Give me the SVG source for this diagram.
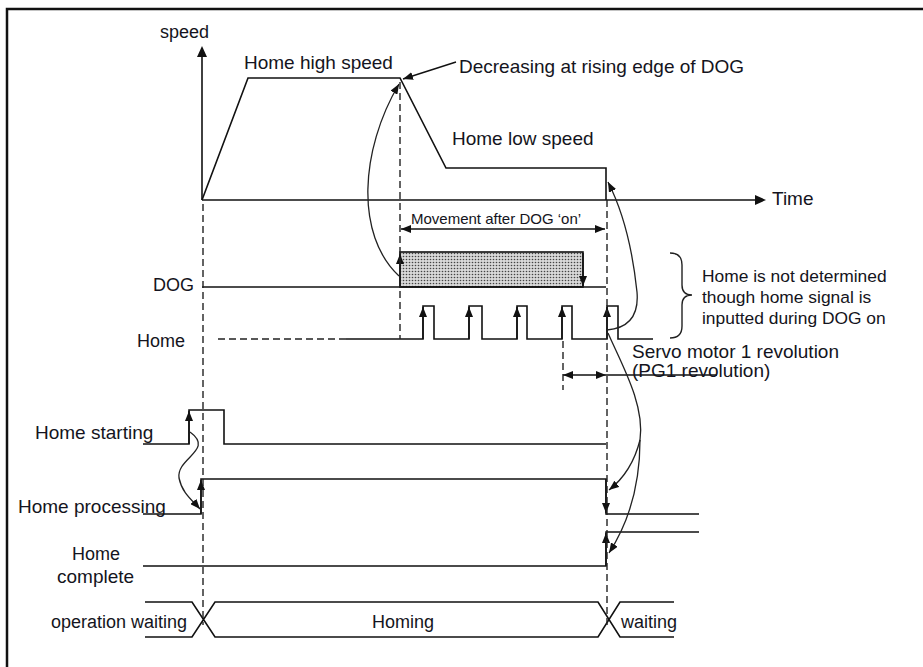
<svg xmlns="http://www.w3.org/2000/svg" width="923" height="667" viewBox="0 0 923 667">
<style>
text{font-family:"Liberation Sans",Arial,sans-serif;fill:#141420}
.t19{font-size:19px}
.t18{font-size:18px}
.t17{font-size:17.4px}
.t15{font-size:15px}
.ln{fill:none;stroke:#111;stroke-width:1.6}
.dash{fill:none;stroke:#222;stroke-width:1.4;stroke-dasharray:7,4}
.arr{fill:none;stroke:#111;stroke-width:1.4;marker-end:url(#ah)}
.crv{fill:none;stroke:#222;stroke-width:1.3;marker-end:url(#ah)}
.dbl{fill:none;stroke:#111;stroke-width:1.4;marker-start:url(#ah);marker-end:url(#ah)}
</style>
<defs>
<marker id="ah" markerUnits="userSpaceOnUse" markerWidth="10" markerHeight="8" refX="10" refY="4" orient="auto-start-reverse">
<path d="M0,0 L10,4 L0,8 z" fill="#111"/>
</marker>
<pattern id="dots" width="3" height="3" patternUnits="userSpaceOnUse">
<rect width="3" height="3" fill="#d8d8d8"/>
<circle cx="1.5" cy="1.5" r="0.8" fill="#444"/>
</pattern>
</defs>
<rect width="923" height="667" fill="#fff"/>
<rect x="7" y="9" width="940" height="680" fill="none" stroke="#111" stroke-width="2.5"/>

<g id="speed-chart">
<line class="ln" x1="202" y1="200" x2="202" y2="56"/>
<path d="M202,46 L197,57 L207,57 z" fill="#111"/>
<text class="t18" x="160" y="38">speed</text>
<line class="ln" x1="202" y1="200" x2="756" y2="200"/>
<path d="M766,200 L755,195 L755,205 z" fill="#111"/>
<text class="t19" x="772" y="205">Time</text>
<polyline class="ln" points="202,200 248,78 400,78 446,168 606,168 606,200"/>
<text class="t19" x="244" y="69">Home high speed</text>
<text class="t19" x="459" y="73">Decreasing at rising edge of DOG</text>
<text class="t19" x="452" y="145">Home low speed</text>
</g>

<g id="dog">
<text class="t18" x="153" y="291">DOG</text>
<rect x="400" y="252" width="183" height="35" fill="url(#dots)" stroke="#111" stroke-width="1.6"/>
<line class="ln" x1="202" y1="287" x2="606" y2="287"/>
<line class="arr" x1="400" y1="287" x2="400" y2="254"/>
<line class="arr" x1="583" y1="253" x2="583" y2="286"/>
</g>

<g id="home">
<text class="t18" x="137" y="347">Home</text>
<line class="dash" x1="218" y1="339" x2="346" y2="339"/>
<polyline class="ln" points="346,339 423,339 423,306 434,306 434,339 469,339 469,306 482,306 482,339 517,339 517,306 527,306 527,339 562,339 562,306 572,306 572,339 607,339 607,306 618,306 618,339 653,339"/>
<line class="arr" x1="423" y1="339" x2="423" y2="307"/>
<line class="arr" x1="469" y1="339" x2="469" y2="307"/>
<line class="arr" x1="517" y1="339" x2="517" y2="307"/>
<line class="arr" x1="562" y1="339" x2="562" y2="307"/>
<line class="arr" x1="607" y1="339" x2="607" y2="307"/>
</g>

<g id="movement">
<line class="dbl" x1="401" y1="229" x2="605" y2="229"/>
<text class="t15" x="411" y="224">Movement after DOG ‘on’</text>
</g>

<g id="note">
<path d="M670,253 Q682,253 682,265 L682,285 Q682,295 692,295 Q682,295 682,305 L682,326 Q682,338 670,338" fill="none" stroke="#222" stroke-width="1.4"/>
<text class="t17" x="702" y="282">Home is not determined</text>
<text class="t17" x="702" y="303">though home signal is</text>
<text class="t17" x="702" y="324">inputted during DOG on</text>
</g>

<g id="revolution">
<line class="dbl" x1="563" y1="375" x2="606" y2="375"/>
<line class="ln" x1="606" y1="375" x2="717" y2="375"/>
<text class="t19" x="632" y="358">Servo motor 1 revolution</text>
<text class="t19" x="632" y="377">(PG1 revolution)</text>
</g>

<g id="home-starting">
<text class="t19" x="35" y="439">Home starting</text>
<polyline class="ln" points="143,444 189,444 189,410 224,410 224,444 606,444"/>
<line class="arr" x1="189" y1="444" x2="189" y2="411"/>
</g>

<g id="home-processing">
<text class="t19" x="18" y="513">Home processing</text>
<polyline class="ln" points="143,514 201,514 201,479 606,479 606,514 699,514"/>
<line class="arr" x1="201" y1="514" x2="201" y2="480"/>
<line class="arr" x1="606" y1="479" x2="606" y2="513"/>
</g>

<g id="home-complete">
<text class="t18" x="72" y="560">Home</text>
<text class="t19" x="57" y="583">complete</text>
<polyline class="ln" points="143,566 606,566 606,532 699,532"/>
<line class="arr" x1="606" y1="566" x2="606" y2="533"/>
</g>

<g id="status">
<text class="t18" x="51" y="628">operation waiting</text>
<text class="t18" x="403" y="628" text-anchor="middle">Homing</text>
<text class="t18" x="621" y="628">waiting</text>
<path class="ln" d="M145,602 H192 L215,637 H598 L620,602 H674 M145,637 H192 L215,602 H598 L620,637 H674"/>
</g>

<g id="guides">
<line class="dash" x1="203" y1="204" x2="203" y2="625"/>
<line class="dash" x1="607" y1="200" x2="607" y2="625"/>
<line class="dash" x1="400" y1="82" x2="400" y2="339"/>
<line class="dash" x1="563" y1="341" x2="563" y2="390"/>
</g>

<g id="connectors">
<line class="arr" x1="456" y1="62" x2="403" y2="79"/>
<path class="crv" d="M399,276 C355,235 360,150 399,84"/>
<path class="crv" d="M607,330 Q640,327 637,292 Q630,225 608,182"/>
<path class="crv" d="M608,333 C622,365 645,405 640,440 Q632,472 609,490"/>
<path class="crv" d="M640,440 Q640,505 609,553"/>
<path class="crv" d="M190,432 C215,450 176,458 179,478 C182,493 192,500 200,509"/>
</g>
</svg>
